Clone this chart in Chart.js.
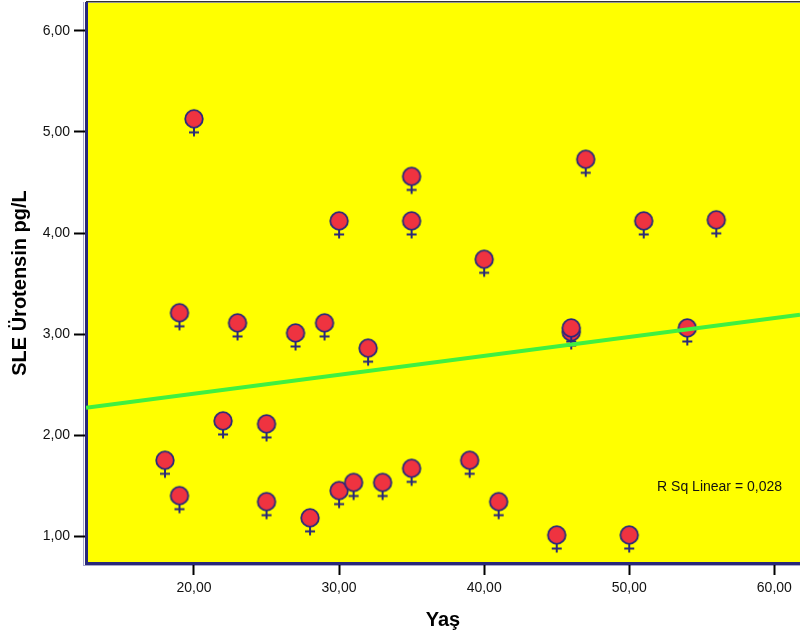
<!DOCTYPE html>
<html>
<head>
<meta charset="utf-8">
<script src="https://cdn.jsdelivr.net/npm/chart.js@4"></script>
<style>
html,body{margin:0;padding:0;background:#fff;}
canvas{display:block;}
</style>
</head>
<body>
<canvas id="c" width="800" height="638"></canvas>
<script>
// ---- data ----
const ages   = [18, 19, 19, 20, 22, 23, 25, 25, 27, 28, 29, 30, 30, 31, 32, 33, 35, 35, 35, 39, 40, 41, 45, 46, 46, 47, 50, 51, 54, 56];
const values = [1.75, 3.21, 1.40, 5.13, 2.14, 3.11, 2.11, 1.34, 3.01, 1.18, 3.11, 4.12, 1.45, 1.53, 2.86, 1.53, 4.56, 4.12, 1.67, 1.75, 3.74, 1.34, 1.01, 3.02, 3.06, 4.73, 1.01, 4.12, 3.06, 4.13];
const fitX = [12.557, 61.77];
const fitY = [2.27, 3.19];
const xTicks = [20, 30, 40, 50, 60];
const yTicks = [1, 2, 3, 4, 5, 6];
const xRange = [12.557, 61.77];
const yRange = [0.733, 6.277];
const rSqLabel = 'R Sq Linear = 0,028';
const xTitle = 'Yaş';
const yTitle = 'SLE Ürotensin pg/L';

// ---- female marker glyph ----
const NAVY = '#29297a';
function makeMarker() {
  const cv = document.createElement('canvas');
  cv.width = 24; cv.height = 40;
  const g = cv.getContext('2d');
  const cx = 12, cy = 20;
  g.strokeStyle = NAVY;
  g.lineWidth = 2;
  g.beginPath();
  g.moveTo(cx, cy + 9); g.lineTo(cx, cy + 17.5);
  g.moveTo(cx - 5, cy + 13.5); g.lineTo(cx + 5, cy + 13.5);
  g.stroke();
  g.beginPath();
  g.arc(cx, cy, 8.8, 0, Math.PI * 2);
  g.fillStyle = '#ef3340';
  g.fill();
  g.lineWidth = 1.8;
  g.stroke();
  return cv;
}
const marker = makeMarker();

const fmt = v => Number(v).toFixed(2).replace('.', ',');
const FONT = "'Liberation Sans', Arial, sans-serif";

function noPad(s) {
  s.paddingTop = 0; s.paddingBottom = 0; s.paddingLeft = 0; s.paddingRight = 0;
}

const bgPlugin = {
  id: 'bg',
  beforeDraw(chart) {
    const {ctx, chartArea: a} = chart;
    ctx.save();
    ctx.fillStyle = '#ffff00';
    ctx.fillRect(a.left, a.top, a.right - a.left, a.bottom - a.top);
    ctx.fillStyle = '#333333';
    ctx.fillRect(a.left, a.top - 2, a.right - a.left, 1.5);
    ctx.fillStyle = '#a8a8cc';
    ctx.fillRect(a.left - 3, a.top - 1, 1, a.bottom - a.top + 4);
    ctx.fillRect(a.left - 3, a.bottom + 2, a.right - a.left + 3, 1);
    ctx.restore();
  },
  afterDatasetsDraw(chart) {
    const {ctx, chartArea: a} = chart;
    ctx.save();
    ctx.font = '14px ' + FONT;
    ctx.fillStyle = '#111';
    ctx.textAlign = 'right';
    ctx.textBaseline = 'middle';
    ctx.fillText(rSqLabel, a.right - 18, a.bottom - 76);
    ctx.restore();
  }
};

new Chart(document.getElementById('c'), {
  data: {
    datasets: [
      {
        type: 'line',
        order: 0,
        data: fitX.map((x, i) => ({x, y: fitY[i]})),
        borderColor: '#40f040',
        borderWidth: 4,
        pointRadius: 0,
        fill: false,
        tension: 0
      },
      {
        type: 'scatter',
        order: 1,
        data: ages.map((x, i) => ({x, y: values[i]})),
        pointStyle: marker,
        pointRadius: 10
      }
    ]
  },
  options: {
    responsive: false,
    animation: false,
    events: [],
    layout: {autoPadding: false, padding: {top: 3, right: 0, left: 0, bottom: 0}},
    plugins: {legend: {display: false}, tooltip: {enabled: false}},
    scales: {
      x: {
        type: 'linear',
        min: xRange[0], max: xRange[1],
        afterBuildTicks: s => { s.ticks = xTicks.map(v => ({value: v})); },
        afterFit: s => { s.height = 75; noPad(s); },
        border: {display: true, color: NAVY, width: 3},
        grid: {drawOnChartArea: false, drawTicks: true, tickLength: 12, tickColor: '#000', tickWidth: 2},
        ticks: {callback: v => fmt(v), color: '#111', font: {family: FONT, size: 14}, padding: 5, maxRotation: 0},
        title: {display: true, text: xTitle, color: '#000', font: {family: FONT, size: 20, weight: 'bold'}, padding: {top: 0, bottom: 6}}
      },
      y: {
        type: 'linear',
        min: yRange[0], max: yRange[1],
        afterBuildTicks: s => { s.ticks = yTicks.map(v => ({value: v})); },
        afterFit: s => { s.width = 86; noPad(s); },
        border: {display: true, color: NAVY, width: 3},
        grid: {drawOnChartArea: false, drawTicks: true, tickLength: 12, tickColor: '#000', tickWidth: 2},
        ticks: {callback: v => fmt(v), color: '#111', font: {family: FONT, size: 14}, padding: 4},
        title: {display: true, text: yTitle, color: '#000', font: {family: FONT, size: 20, weight: 'bold'}, padding: {top: 8, bottom: 0}}
      }
    }
  },
  plugins: [bgPlugin]
});
</script>
</body>
</html>
